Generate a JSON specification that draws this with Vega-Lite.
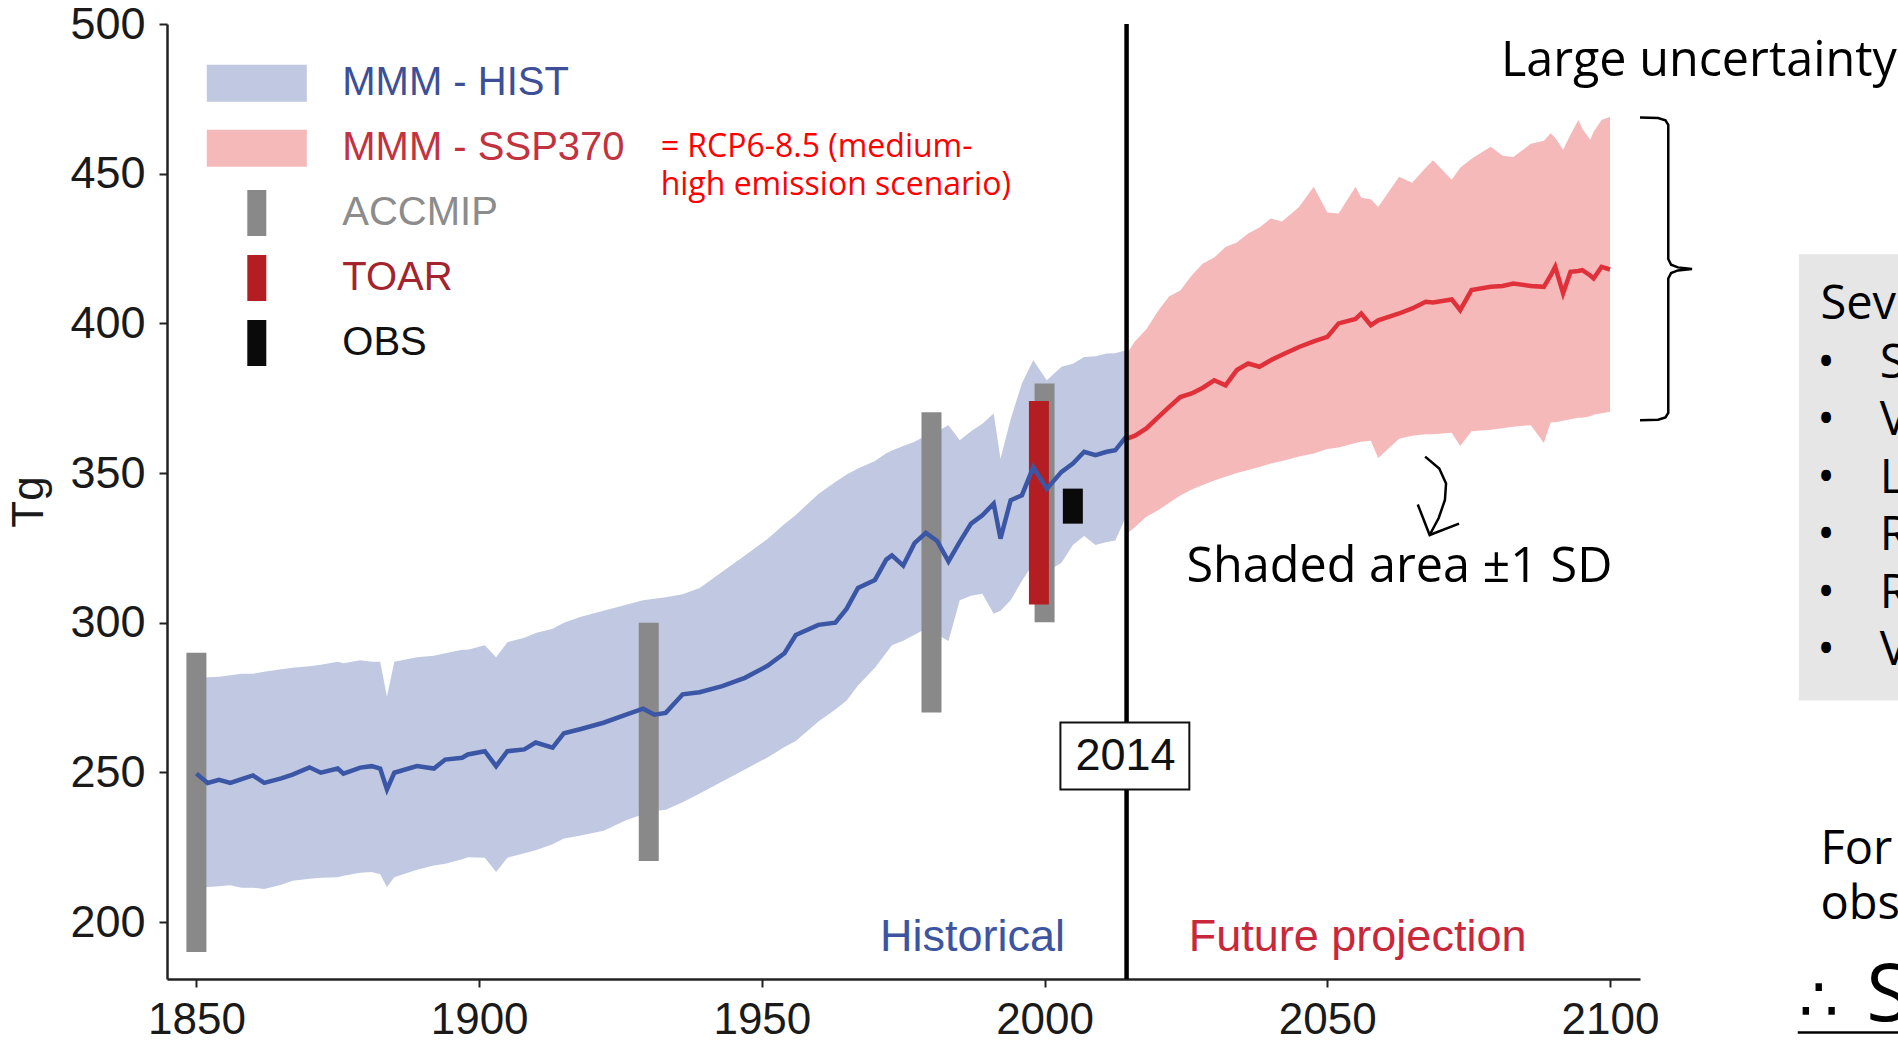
{
  "$schema": "https://vega.github.io/schema/vega-lite/v6.json",
  "width": 1473,
  "height": 955,
  "autosize": {"type": "none"},
  "padding": {"left": 167, "top": 24, "right": 258, "bottom": 61},
  "background": "white",
  "config": {
    "view": {"stroke": null},
    "font": "Liberation Sans",
    "axis": {"grid": false, "labelFont": "Liberation Sans", "labelColor": "#1a1a1a", "tickSize": 8, "tickWidth": 2, "tickColor": "#222222", "domainColor": "#222222", "domainWidth": 2.5, "labelFlush": false, "titleFont": "Liberation Sans", "titleFontWeight": "normal", "titleColor": "#1a1a1a"},
    "axisX": {"labelFontSize": 44, "labelPadding": 11},
    "axisY": {"labelFontSize": 45, "labelPadding": 14, "titleFontSize": 44, "titlePadding": 18},
    "legend": {
      "orient": "none", "legendX": 69.8, "legendY": 39.3, "title": null, "padding": 0,
      "symbolSize": 1600, "symbolStrokeWidth": 0, "symbolOpacity": 1,
      "labelFont": "Liberation Sans", "labelFontSize": 40, "labelOffset": 65.5, "labelLimit": 0, "rowPadding": 14.9
    }
  },
  "datasets": {
    "hist": [
      {"year":1850,"value":249.6,"lo":211,"hi":281},{"year":1852,"value":246.5,"lo":211.7,"hi":281.8},{"year":1854,"value":247.5,"lo":212,"hi":282},{"year":1856,"value":246.5,"lo":212.3,"hi":282.5},{"year":1858,"value":247.8,"lo":211.5,"hi":283},{"year":1860,"value":249,"lo":211.5,"hi":283},{"year":1862,"value":246.5,"lo":211.1,"hi":283.6},{"year":1865,"value":248,"lo":212.5,"hi":284.5},{"year":1867,"value":249.3,"lo":213.8,"hi":285},{"year":1870,"value":251.7,"lo":214.5,"hi":285.5},{"year":1872,"value":249.9,"lo":214.8,"hi":286},{"year":1875,"value":251.3,"lo":215,"hi":287},{"year":1876,"value":249.6,"lo":215.5,"hi":286.5},{"year":1879,"value":251.6,"lo":216.5,"hi":287.5},{"year":1881,"value":252.1,"lo":216.7,"hi":287},{"year":1882.5,"value":251.3,"lo":216,"hi":287},{"year":1883.7,"value":244.3,"lo":211.7,"hi":275.3},{"year":1885,"value":249.9,"lo":215,"hi":287},{"year":1889,"value":252.1,"lo":217.5,"hi":288.5},{"year":1892,"value":251.3,"lo":218.9,"hi":289},{"year":1894,"value":254.3,"lo":219.5,"hi":289.8},{"year":1897,"value":254.9,"lo":221,"hi":291},{"year":1898,"value":256,"lo":221.7,"hi":291},{"year":1901,"value":257.1,"lo":221.5,"hi":292.5},{"year":1903,"value":252.1,"lo":216.7,"hi":288.5},{"year":1905,"value":257.1,"lo":221.5,"hi":293.5},{"year":1908,"value":257.7,"lo":223,"hi":295},{"year":1910,"value":260,"lo":224,"hi":296.6},{"year":1913,"value":258.3,"lo":226,"hi":298},{"year":1915,"value":263.1,"lo":227.9,"hi":300},{"year":1918,"value":264.5,"lo":228.9,"hi":302},{"year":1922,"value":266.6,"lo":230.5,"hi":304},{"year":1926,"value":269.3,"lo":234,"hi":306},{"year":1929,"value":271.3,"lo":236,"hi":307.5},{"year":1931,"value":269.3,"lo":237,"hi":308},{"year":1933,"value":269.9,"lo":237.5,"hi":308.5},{"year":1936,"value":276.1,"lo":240,"hi":309.5},{"year":1939,"value":276.8,"lo":243,"hi":311.6},{"year":1943,"value":278.8,"lo":247,"hi":317},{"year":1947,"value":281.6,"lo":251,"hi":322.5},{"year":1951,"value":285.6,"lo":255,"hi":328},{"year":1954,"value":289.8,"lo":258.5,"hi":333},{"year":1956,"value":295.9,"lo":260.5,"hi":336},{"year":1960,"value":299.3,"lo":267,"hi":343},{"year":1963,"value":300,"lo":271,"hi":347},{"year":1965,"value":304.7,"lo":274,"hi":349.5},{"year":1967,"value":311.6,"lo":279,"hi":351.5},{"year":1970,"value":314.3,"lo":285,"hi":354},{"year":1972,"value":321.1,"lo":290,"hi":356.6},{"year":1973,"value":322.5,"lo":292.5,"hi":357.5},{"year":1975,"value":319.1,"lo":294,"hi":359},{"year":1977,"value":326.6,"lo":296,"hi":360.5},{"year":1979,"value":330,"lo":298,"hi":362.5},{"year":1981,"value":327.3,"lo":296,"hi":364},{"year":1983,"value":320.5,"lo":293.9,"hi":366},{"year":1985,"value":327,"lo":307.5,"hi":361},{"year":1987,"value":333.1,"lo":309,"hi":364},{"year":1989,"value":335.9,"lo":309.7,"hi":366.5},{"year":1991,"value":339.8,"lo":303,"hi":369.9},{"year":1992.2,"value":328.1,"lo":304,"hi":354.8},{"year":1994,"value":340.9,"lo":307.5,"hi":368},{"year":1996,"value":342.6,"lo":314,"hi":380},{"year":1998,"value":352,"lo":319.8,"hi":387.7},{"year":2000.4,"value":344.8,"lo":317,"hi":381},{"year":2003,"value":350.4,"lo":320,"hi":385.5},{"year":2005,"value":353.2,"lo":326,"hi":386.5},{"year":2007,"value":357.1,"lo":329,"hi":388.8},{"year":2009,"value":356,"lo":326,"hi":389},{"year":2011,"value":357.1,"lo":327,"hi":389.9},{"year":2012.5,"value":357.6,"lo":327.5,"hi":390},{"year":2014.4,"value":362.1,"lo":335.3,"hi":391}
    ],
    "ssp": [
      {"year":2014.6,"value":361.5,"lo":329.8,"hi":390},{"year":2016,"value":362.5,"lo":332,"hi":394},{"year":2018,"value":364.9,"lo":335.4,"hi":398},{"year":2020,"value":368.5,"lo":337.5,"hi":404},{"year":2022,"value":372,"lo":340,"hi":409},{"year":2024,"value":375.4,"lo":342.5,"hi":411},{"year":2026,"value":376.6,"lo":344.5,"hi":416},{"year":2028,"value":378.5,"lo":346,"hi":420},{"year":2030,"value":381,"lo":347.5,"hi":422},{"year":2032,"value":379.3,"lo":348.8,"hi":425.5},{"year":2034,"value":384.4,"lo":350,"hi":427},{"year":2036,"value":386.6,"lo":351,"hi":430},{"year":2038,"value":385.5,"lo":352,"hi":432},{"year":2040,"value":387.7,"lo":353.2,"hi":435},{"year":2042,"value":389.5,"lo":354,"hi":434},{"year":2045,"value":392.1,"lo":355.5,"hi":438.9},{"year":2047.6,"value":394,"lo":356.5,"hi":445.6},{"year":2050,"value":395.5,"lo":358,"hi":437},{"year":2052,"value":400,"lo":358.5,"hi":436.7},{"year":2055,"value":401.5,"lo":360,"hi":445.6},{"year":2056,"value":403.3,"lo":360.5,"hi":442},{"year":2057.7,"value":399.4,"lo":360.8,"hi":441.5},{"year":2059,"value":401,"lo":355,"hi":438.9},{"year":2062.7,"value":403.3,"lo":361.5,"hi":449},{"year":2065,"value":405,"lo":362.5,"hi":447},{"year":2067.4,"value":407.2,"lo":363,"hi":452},{"year":2068.7,"value":407,"lo":363,"hi":454.5},{"year":2072,"value":408,"lo":363.5,"hi":448},{"year":2073.5,"value":404.4,"lo":359,"hi":452},{"year":2075.5,"value":411.1,"lo":364,"hi":455},{"year":2078.9,"value":412.2,"lo":364.5,"hi":459},{"year":2081,"value":412.5,"lo":365,"hi":456},{"year":2082.9,"value":413.3,"lo":365.5,"hi":455.6},{"year":2086,"value":412.5,"lo":366,"hi":460},{"year":2088.3,"value":412.2,"lo":360,"hi":461},{"year":2089.5,"value":416,"lo":367,"hi":463.5},{"year":2090.3,"value":418.9,"lo":367,"hi":462},{"year":2091.7,"value":410,"lo":367.5,"hi":458},{"year":2093,"value":417.2,"lo":368,"hi":463},{"year":2094.4,"value":417.5,"lo":368.5,"hi":467.9},{"year":2095.1,"value":417.8,"lo":368.5,"hi":465},{"year":2096.5,"value":416,"lo":369,"hi":461.3},{"year":2097.1,"value":415,"lo":369.5,"hi":464},{"year":2098.5,"value":418.9,"lo":370,"hi":467.9},{"year":2100,"value":418,"lo":370.5,"hi":469}
    ],
    "bars": [
      {"series":"ACCMIP","year":1850,"lo":190,"hi":290},
      {"series":"ACCMIP","year":1930,"lo":220.4,"hi":300},
      {"series":"ACCMIP","year":1980,"lo":270,"hi":370.3},
      {"series":"ACCMIP","year":2000,"lo":300.2,"hi":379.9},
      {"series":"TOAR","year":1999,"lo":306.1,"hi":374.1},
      {"series":"OBS","year":2005,"lo":333.1,"hi":344.8}
    ],
    "strokes": [
      {"part":"brace","ord":1,"year":2105.3,"value":468.8},{"part":"brace","ord":2,"year":2108.5,"value":468.6},{"part":"brace","ord":3,"year":2109.8,"value":467.8},{"part":"brace","ord":4,"year":2110.3,"value":466.3},{"part":"brace","ord":5,"year":2110.3,"value":421.5},{"part":"brace","ord":6,"year":2110.8,"value":419.6},{"part":"brace","ord":7,"year":2112,"value":418.7},{"part":"brace","ord":8,"year":2114.5,"value":418.2},{"part":"brace","ord":9,"year":2112,"value":417.7},{"part":"brace","ord":10,"year":2110.8,"value":416.8},{"part":"brace","ord":11,"year":2110.3,"value":415},{"part":"brace","ord":12,"year":2110.3,"value":370.1},{"part":"brace","ord":13,"year":2109.8,"value":368.6},{"part":"brace","ord":14,"year":2108.5,"value":367.8},{"part":"brace","ord":15,"year":2105.3,"value":367.6},
      {"part":"curve","ord":1,"year":2067.3,"value":355.5},{"part":"curve","ord":2,"year":2069.8,"value":351.5},{"part":"curve","ord":3,"year":2071,"value":346.5},{"part":"curve","ord":4,"year":2070.8,"value":341},{"part":"curve","ord":5,"year":2069.7,"value":335},{"part":"curve","ord":6,"year":2068.1,"value":329.3},
      {"part":"head","ord":1,"year":2066,"value":339.5},{"part":"head","ord":2,"year":2068.1,"value":329.3},{"part":"head","ord":3,"year":2073.3,"value":333.1},
      {"part":"underline","ord":1,"year":2133.2,"value":163.1},{"part":"underline","ord":2,"year":2170,"value":163.1}
    ]
  },
  "encoding": {
    "x": {"field": "year", "type": "quantitative", "scale": {"domain": [1844.8, 2105.3], "nice": false, "zero": false},
      "axis": {"values": [1850, 1900, 1950, 2000, 2050, 2100], "format": "d", "title": null}},
    "y": {"field": "value", "type": "quantitative", "scale": {"domain": [181, 500], "nice": false, "zero": false},
      "axis": {"values": [200, 250, 300, 350, 400, 450, 500], "title": "Tg"}}
  },
  "layer": [
    {
      "data": {"name": "hist"},
      "mark": {"type": "area", "opacity": 1},
      "encoding": {
        "y": {"field": "hi", "type": "quantitative", "scale": {"domain": [181, 500], "nice": false, "zero": false}, "axis": {"values": [200, 250, 300, 350, 400, 450, 500], "title": "Tg"}},
        "y2": {"field": "lo"},
        "color": {"datum": "MMM - HIST", "type": "nominal", "scale": {"domain": ["MMM - HIST", "MMM - SSP370", "ACCMIP", "TOAR", "OBS"], "range": ["#c0c9e1", "#f5b9ba", "#898989", "#b41e23", "#0a0a0a"]},
          "legend": {
            "encode": {
              "symbols": {"update": {
                "shape": {"signal": "(datum.value === 'MMM - HIST' || datum.value === 'MMM - SSP370') ? 'M-2.5,-0.925H2.5V0.925H-2.5Z M0,-1.25V1.25' : 'M-0.475,-1.15H0.475V1.15H-0.475Z M0,-1.25V1.25'"},
                "fill": {"scale": "color", "field": "value"},
                "stroke": {"value": "transparent"},
                "strokeWidth": {"value": 0},
                "opacity": {"value": 1}
              }},
              "labels": {"update": {
                "fill": {"signal": "datum.value === 'MMM - HIST' ? '#3c4f97' : datum.value === 'MMM - SSP370' ? '#c2323f' : datum.value === 'ACCMIP' ? '#8c8c8c' : datum.value === 'TOAR' ? '#a3232e' : '#111111'"}
              }}
            }
          }}
      }
    },
    {
      "data": {"name": "ssp"},
      "mark": {"type": "area", "opacity": 1},
      "encoding": {
        "y": {"field": "hi", "type": "quantitative", "scale": {"domain": [181, 500], "nice": false, "zero": false}, "axis": {"values": [200, 250, 300, 350, 400, 450, 500], "title": "Tg"}},
        "y2": {"field": "lo"},
        "color": {"datum": "MMM - SSP370", "type": "nominal", "scale": {"domain": ["MMM - HIST", "MMM - SSP370", "ACCMIP", "TOAR", "OBS"], "range": ["#c0c9e1", "#f5b9ba", "#898989", "#b41e23", "#0a0a0a"]},
          "legend": {
            "encode": {
              "symbols": {"update": {
                "shape": {"signal": "(datum.value === 'MMM - HIST' || datum.value === 'MMM - SSP370') ? 'M-2.5,-0.925H2.5V0.925H-2.5Z M0,-1.25V1.25' : 'M-0.475,-1.15H0.475V1.15H-0.475Z M0,-1.25V1.25'"},
                "fill": {"scale": "color", "field": "value"},
                "stroke": {"value": "transparent"},
                "strokeWidth": {"value": 0},
                "opacity": {"value": 1}
              }},
              "labels": {"update": {
                "fill": {"signal": "datum.value === 'MMM - HIST' ? '#3c4f97' : datum.value === 'MMM - SSP370' ? '#c2323f' : datum.value === 'ACCMIP' ? '#8c8c8c' : datum.value === 'TOAR' ? '#a3232e' : '#111111'"}
              }}
            }
          }}
      }
    },
    {
      "data": {"name": "bars"},
      "mark": {"type": "rule", "strokeWidth": 20, "strokeCap": "butt"},
      "encoding": {
        "y": {"field": "hi", "type": "quantitative", "scale": {"domain": [181, 500], "nice": false, "zero": false}, "axis": {"values": [200, 250, 300, 350, 400, 450, 500], "title": "Tg"}},
        "y2": {"field": "lo"},
        "color": {"field": "series", "type": "nominal", "scale": {"domain": ["MMM - HIST", "MMM - SSP370", "ACCMIP", "TOAR", "OBS"], "range": ["#c0c9e1", "#f5b9ba", "#898989", "#b41e23", "#0a0a0a"]},
          "legend": {
            "encode": {
              "symbols": {"update": {
                "shape": {"signal": "(datum.value === 'MMM - HIST' || datum.value === 'MMM - SSP370') ? 'M-2.5,-0.925H2.5V0.925H-2.5Z M0,-1.25V1.25' : 'M-0.475,-1.15H0.475V1.15H-0.475Z M0,-1.25V1.25'"},
                "fill": {"scale": "color", "field": "value"},
                "stroke": {"value": "transparent"},
                "strokeWidth": {"value": 0},
                "opacity": {"value": 1}
              }},
              "labels": {"update": {
                "fill": {"signal": "datum.value === 'MMM - HIST' ? '#3c4f97' : datum.value === 'MMM - SSP370' ? '#c2323f' : datum.value === 'ACCMIP' ? '#8c8c8c' : datum.value === 'TOAR' ? '#a3232e' : '#111111'"}
              }}
            }
          }}
      }
    },
    {
      "data": {"name": "hist"},
      "mark": {"type": "line", "color": "#3a56a5", "strokeWidth": 4.5}
    },
    {
      "data": {"name": "ssp"},
      "mark": {"type": "line", "color": "#e0313b", "strokeWidth": 4.5}
    },
    {
      "data": {"values": [{"year": 2014.5, "value": 500, "bottom": 181}]},
      "mark": {"type": "rule", "color": "#000000", "strokeWidth": 4.5},
      "encoding": {"y2": {"field": "bottom"}}
    },
    {
      "data": {"values": [{"left": 2002.8, "right": 2025.6, "top": 266.7, "bottom": 244.3}]},
      "mark": {"type": "rect", "fill": "#ffffff", "stroke": "#111111", "strokeWidth": 2},
      "encoding": {
        "x": {"field": "left", "type": "quantitative"},
        "x2": {"field": "right"},
        "y": {"field": "top", "type": "quantitative"},
        "y2": {"field": "bottom"}
      }
    },
    {
      "data": {"values": [{"year": 2014.3, "value": 255.5, "label": "2014"}]},
      "mark": {"type": "text", "font": "Liberation Sans", "fontSize": 45, "color": "#111111", "align": "center", "baseline": "middle"},
      "encoding": {"text": {"field": "label"}}
    },
    {
      "data": {"values": [{"year": 2003.6, "value": 190.5, "label": "Historical"}]},
      "mark": {"type": "text", "font": "Liberation Sans", "fontSize": 45, "color": "#3d55a0", "align": "right", "baseline": "alphabetic"},
      "encoding": {"text": {"field": "label"}}
    },
    {
      "data": {"values": [{"year": 2025.5, "value": 190.5, "label": "Future projection"}]},
      "mark": {"type": "text", "font": "Liberation Sans", "fontSize": 45, "color": "#c8283a", "align": "left", "baseline": "alphabetic"},
      "encoding": {"text": {"field": "label"}}
    },
    {
      "data": {"values": [{"year": 1932.1, "value": 455.6, "label": "= RCP6-8.5 (medium-\nhigh emission scenario)"}]},
      "mark": {"type": "text", "font": "Open Sans", "fontSize": 32, "lineHeight": 38, "lineBreak": "\n", "color": "#ff0000", "align": "left", "baseline": "alphabetic"},
      "encoding": {"text": {"field": "label"}}
    },
    {
      "data": {"values": [
        {"year": 2080.7, "value": 482.5, "label": "Large uncertainty"},
        {"year": 2025.1, "value": 313.6, "label": "Shaded area ±1 SD"}
      ]},
      "mark": {"type": "text", "font": "Open Sans", "fontSize": 48.5, "color": "#000000", "align": "left", "baseline": "alphabetic"},
      "encoding": {"text": {"field": "label"}}
    },
    {
      "data": {"name": "strokes"},
      "mark": {"type": "line", "color": "#000000", "strokeWidth": 2.5, "clip": false},
      "encoding": {"detail": {"field": "part"}, "order": {"field": "ord", "type": "quantitative"}}
    },
    {
      "data": {"values": [{"left": 2133.4, "right": 2170, "top": 423.1, "bottom": 274}]},
      "mark": {"type": "rect", "fill": "#e6e6e6"},
      "encoding": {
        "x": {"field": "left", "type": "quantitative"},
        "x2": {"field": "right"},
        "y": {"field": "top", "type": "quantitative"},
        "y2": {"field": "bottom"}
      }
    },
    {
      "data": {"values": [
        {"year": 2137.2, "value": 401.3, "label": "Several"},
        {"year": 2147.7, "value": 381.9, "label": "S"},
        {"year": 2147.7, "value": 362.8, "label": "V"},
        {"year": 2147.7, "value": 343.4, "label": "L"},
        {"year": 2147.7, "value": 324.4, "label": "R"},
        {"year": 2147.7, "value": 305, "label": "R"},
        {"year": 2147.7, "value": 286, "label": "V"},
        {"year": 2137.2, "value": 219.3, "label": "For"},
        {"year": 2137.2, "value": 201.2, "label": "obs"}
      ]},
      "mark": {"type": "text", "font": "Open Sans", "fontSize": 47, "color": "#000000", "align": "left", "baseline": "alphabetic"},
      "encoding": {"text": {"field": "label"}}
    },
    {
      "data": {"values": [
        {"year": 2138.2, "value": 381.9, "label": "•"},
        {"year": 2138.2, "value": 362.8, "label": "•"},
        {"year": 2138.2, "value": 343.4, "label": "•"},
        {"year": 2138.2, "value": 324.4, "label": "•"},
        {"year": 2138.2, "value": 305, "label": "•"},
        {"year": 2138.2, "value": 286, "label": "•"}
      ]},
      "mark": {"type": "text", "font": "Open Sans", "fontSize": 47, "color": "#000000", "align": "center", "baseline": "alphabetic"},
      "encoding": {"text": {"field": "label"}}
    },
    {
      "data": {"values": [{"year": 2136.9, "value": 167.1, "label": "∴"}]},
      "mark": {"type": "text", "font": "DejaVu Sans", "fontSize": 62, "color": "#000000", "align": "center", "baseline": "alphabetic"},
      "encoding": {"text": {"field": "label"}}
    },
    {
      "data": {"values": [{"year": 2145.3, "value": 167.1, "label": "S"}]},
      "mark": {"type": "text", "font": "Open Sans", "fontSize": 80, "color": "#000000", "align": "left", "baseline": "alphabetic"},
      "encoding": {"text": {"field": "label"}}
    }
  ]
}
